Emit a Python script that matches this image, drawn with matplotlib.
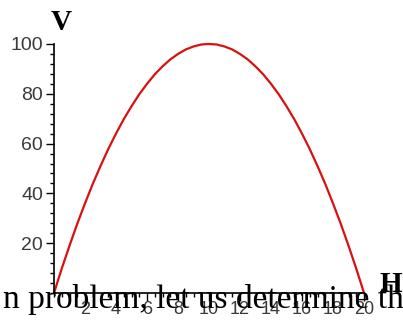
import numpy as np
import matplotlib
matplotlib.use('Agg')
import matplotlib.pyplot as plt
from matplotlib.ticker import MultipleLocator

# values (every half unit of H)
H = [0, 0.5, 1, 1.5, 2, 2.5, 3, 3.5, 4, 4.5, 5, 5.5, 6, 6.5, 7, 7.5, 8, 8.5, 9, 9.5,
     10, 10.5, 11, 11.5, 12, 12.5, 13, 13.5, 14, 14.5, 15, 15.5, 16, 16.5, 17, 17.5,
     18, 18.5, 19, 19.5, 20]
V = [0, 9.8, 19, 27.8, 36, 43.8, 51, 57.8, 64, 69.8, 75, 79.8, 84, 87.8, 91, 93.8,
     96, 97.8, 99, 99.8, 100, 99.8, 99, 97.8, 96, 93.8, 91, 87.8, 84, 79.8, 75, 69.8,
     64, 57.8, 51, 43.8, 36, 27.8, 19, 9.8, 0]

x_ticks = [2, 4, 6, 8, 10, 12, 14, 16, 18, 20]
y_ticks = [20, 40, 60, 80, 100]

fig = plt.figure(figsize=(4.03, 3.2), dpi=100)
ax = fig.add_axes([54 / 403, 27 / 320, 310 / 403, 249 / 320])

ax.plot(H, V, color='#d81010', linewidth=1.6, clip_on=False)

ax.set_xlim(0, 20)
ax.set_ylim(0, 100)
ax.set_xticks(x_ticks)
ax.set_yticks(y_ticks)
ax.xaxis.set_minor_locator(MultipleLocator(0.5))
ax.yaxis.set_minor_locator(MultipleLocator(4))

ax.spines['top'].set_visible(False)
ax.spines['right'].set_visible(False)
for s in ['left', 'bottom']:
    ax.spines[s].set_linewidth(1.2)

ax.tick_params(which='major', length=6, width=1, color='black',
               labelcolor='#3a3a3a', pad=2)
ax.tick_params(which='minor', length=3, width=1, color='black')
ax.tick_params(axis='y', labelsize=14)
ax.tick_params(axis='x', labelsize=13, pad=0)
for lab in ax.get_xticklabels() + ax.get_yticklabels():
    lab.set_fontfamily('Liberation Sans')

# overlapping text from the page
fig.text(3 / 403, 1 - 308 / 320, 'n problem, let us determine the', fontsize=24,
         family='Liberation Serif', ha='left', va='baseline', color='black', zorder=3)

# axis names
fig.text(61 / 403, 1 - 22 / 320, 'V', fontsize=21, fontweight='bold',
         family='Liberation Serif', ha='center', va='center', zorder=5)
fig.text(391 / 403, 1 - 285 / 320, 'H', fontsize=21, fontweight='bold',
         family='Liberation Serif', ha='center', va='center', zorder=5)

plt.savefig('out.png', dpi=100, facecolor='white')
